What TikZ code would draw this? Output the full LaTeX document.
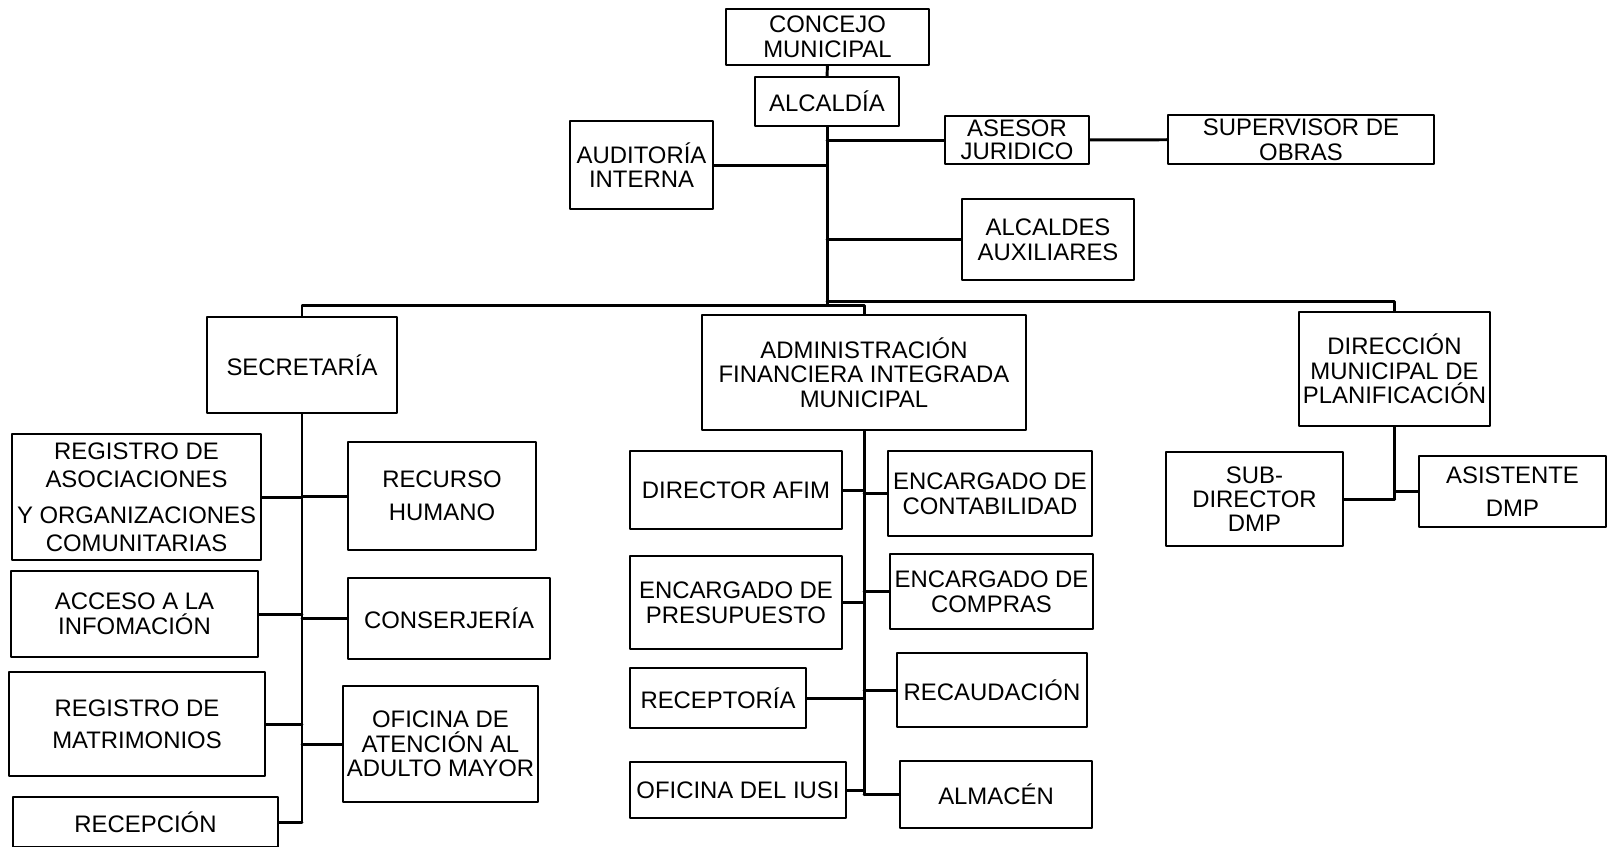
\documentclass[tikz,border=0pt]{standalone}
\usepackage{fontspec}
\setmainfont{Liberation Sans}
\usetikzlibrary{calc}

\begin{document}
\begin{tikzpicture}[line cap=round, line join=round, x=0.02cm, y=-0.02cm,
    unit/.style={draw, line width=1.3pt, inner sep=0pt, align=center, font=\fontsize{13.6}{14}\selectfont},
    link/.style={line width=1.7pt}]
    \useasboundingbox (0,0) rectangle (1608,846);

    % Top level
    \draw (827.5,37) node[unit, minimum width=4.06cm, minimum height=1.12cm] (concejo) {CONCEJO\\MUNICIPAL};
    \draw (827,101.5) node[unit, minimum width=2.88cm, minimum height=0.98cm] (alcaldia) {ALCALDÍA};
    \draw (641.5,165) node[unit, minimum width=2.86cm, minimum height=1.76cm] (auditoria) {AUDITORÍA\\INTERNA};
    \draw (1017,140) node[unit, minimum width=2.88cm, minimum height=0.96cm, font=\fontsize{13.6}{13}\selectfont] (asesor) {ASESOR\\JURIDICO};
    \draw (1301,139.5) node[unit, minimum width=5.32cm, minimum height=0.98cm] (supervisor) {SUPERVISOR DE\\OBRAS};
    \draw (1048,239.5) node[unit, minimum width=3.44cm, minimum height=1.62cm] (alcaldes) {ALCALDES\\AUXILIARES};

    % Departments
    \draw (302,365) node[unit, minimum width=3.80cm, minimum height=1.92cm] (secretaria) {SECRETARÍA};
    \draw (864,372.5) node[unit, minimum width=6.48cm, minimum height=2.30cm] (afim) {ADMINISTRACIÓN\\FINANCIERA INTEGRADA\\MUNICIPAL};
    \draw (1394.5,369) node[unit, minimum width=3.82cm, minimum height=2.28cm] (dmp) {DIRECCIÓN\\MUNICIPAL DE\\PLANIFICACIÓN};

    % Secretaria units
    \draw (136.5,497) node[unit, minimum width=4.98cm, minimum height=2.52cm, font=\fontsize{13.6}{16}\selectfont] (regasoc) {REGISTRO DE\\ASOCIACIONES\\[4.5pt]Y ORGANIZACIONES\\COMUNITARIAS};
    \draw (442,496) node[unit, minimum width=3.76cm, minimum height=2.16cm, font=\fontsize{13.6}{19}\selectfont] (recurso) {RECURSO\\HUMANO};
    \draw (134.5,614) node[unit, minimum width=4.94cm, minimum height=1.72cm] (acceso) {ACCESO A LA\\INFOMACIÓN};
    \draw (449,618.5) node[unit, minimum width=4.04cm, minimum height=1.62cm] (conserjeria) {CONSERJERÍA};
    \draw (137,724) node[unit, minimum width=5.12cm, minimum height=2.08cm, font=\fontsize{13.6}{18}\selectfont] (regmat) {REGISTRO DE\\MATRIMONIOS};
    \draw (440.5,744) node[unit, minimum width=3.90cm, minimum height=2.32cm] (adulto) {OFICINA DE\\ATENCIÓN AL\\ADULTO MAYOR};
    \draw (145.5,822) node[unit, minimum width=5.30cm, minimum height=1.00cm] (recepcion) {RECEPCIÓN};

    % AFIM units
    \draw (736,490) node[unit, minimum width=4.24cm, minimum height=1.56cm] (dirafim) {DIRECTOR AFIM};
    \draw (990,493.5) node[unit, minimum width=4.08cm, minimum height=1.70cm] (contab) {ENCARGADO DE\\CONTABILIDAD};
    \draw (736,602.5) node[unit, minimum width=4.24cm, minimum height=1.86cm] (presup) {ENCARGADO DE\\PRESUPUESTO};
    \draw (991.5,591.5) node[unit, minimum width=4.06cm, minimum height=1.50cm] (compras) {ENCARGADO DE\\COMPRAS};
    \draw (718,698) node[unit, minimum width=3.52cm, minimum height=1.20cm] (receptoria) {RECEPTORÍA};
    \draw (992,690) node[unit, minimum width=3.80cm, minimum height=1.48cm] (recaudacion) {RECAUDACIÓN};
    \draw (738,790) node[unit, minimum width=4.32cm, minimum height=1.12cm] (iusi) {OFICINA DEL IUSI};
    \draw (996,794.5) node[unit, minimum width=3.84cm, minimum height=1.34cm] (almacen) {ALMACÉN};

    % DMP units
    \draw (1254.5,499) node[unit, minimum width=3.54cm, minimum height=1.88cm, font=\fontsize{13.6}{13.5}\selectfont] (subdir) {SUB-\\DIRECTOR\\DMP};
    \draw (1512.5,491.5) node[unit, minimum width=3.74cm, minimum height=1.42cm, font=\fontsize{13.6}{19}\selectfont] (asistente) {ASISTENTE\\DMP};

    % Edges
    \coordinate (bus) at (827,305);
    \coordinate (busr) at (827,301);
    \draw[link] (concejo) -- (alcaldia);
    \draw[link] (alcaldia.south) -- (bus);
    \foreach \office in {auditoria, asesor, alcaldes} {
            \draw[link] (\office) -- (\office -| alcaldia.south);
        }
    \draw[link] (asesor) -- (supervisor);
    \draw[link] (bus) -| (secretaria.north);
    \draw[link] (bus) -| (afim.north);
    \draw[link] (busr) -| (dmp.north);

    \draw[link] (secretaria.south) -- (secretaria.south |- recepcion.east);
    \foreach \office in {regasoc, recurso, acceso, conserjeria, regmat, adulto, recepcion} {
            \draw[link] (\office) -- (\office -| secretaria.south);
        }

    \draw[link] (afim.south) -- (afim.south |- almacen.west);
    \foreach \office in {dirafim, contab, presup, compras, receptoria, recaudacion, iusi, almacen} {
            \draw[link] (\office) -- (\office -| afim.south);
        }

    \draw[link] (dmp.south) -- (dmp.south |- subdir.east);
    \foreach \office in {subdir, asistente} {
            \draw[link] (\office) -- (\office -| dmp.south);
        }
\end{tikzpicture}
\end{document}
